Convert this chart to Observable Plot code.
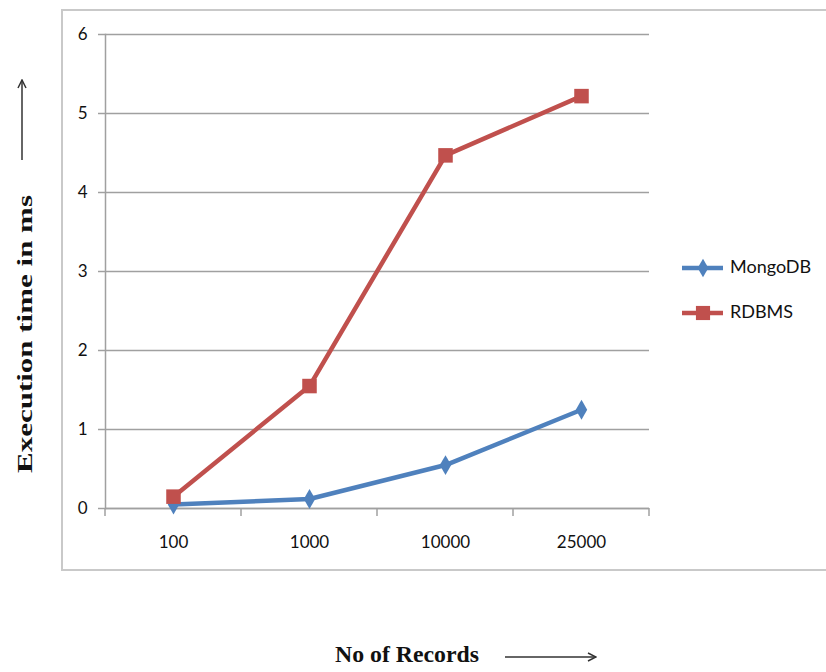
<!DOCTYPE html>
<html>
<head>
<meta charset="utf-8">
<script src="https://cdn.jsdelivr.net/npm/d3@7"></script>
<script src="https://cdn.jsdelivr.net/npm/@observablehq/plot@0.6"></script>
<style>
  html, body { margin: 0; padding: 0; background: #fff; }
  #wrap { position: relative; width: 826px; height: 672px; overflow: hidden; }
  #box { position: absolute; left: 61px; top: 9px; width: 800px; height: 562px; border: 2px solid #c9c9c9; box-sizing: border-box; }
  #chart { position: absolute; left: 0; top: 0; }
</style>
</head>
<body>
<div id="wrap">
  <div id="box"></div>
  <div id="chart"></div>
</div>
<script>
const categories = ["100", "1000", "10000", "25000"];
const mongoValues = [0.05, 0.12, 0.55, 1.25];
const rdbmsValues = [0.15, 1.55, 4.47, 5.22];
const yTicks = [0, 1, 2, 3, 4, 5, 6];
const seriesNames = ["MongoDB", "RDBMS"];
const seriesColors = ["#4F81BD", "#C0504D"];
const seriesSymbols = ["diamond", "square"];

const mongo = categories.map((c, i) => ({records: c, value: mongoValues[i], series: "MongoDB"}));
const rdbms = categories.map((c, i) => ({records: c, value: rdbmsValues[i], series: "RDBMS"}));

const axisColor = "#a0a0a0";

const chart = Plot.plot({
  width: 826,
  height: 672,
  marginLeft: 105,
  marginRight: 177,
  marginTop: 34,
  marginBottom: 164,
  style: {fontFamily: "Lato, 'Open Sans', sans-serif", fontSize: "17px", color: "#111", background: "transparent"},
  x: {type: "band", domain: categories, padding: 0, label: null},
  y: {domain: [0, 6], label: null},
  marks: [
    Plot.gridY(yTicks, {stroke: axisColor, strokeOpacity: 1, strokeWidth: 1.5}),
    Plot.axisY(yTicks, {tickSize: 7, tickPadding: 11, stroke: axisColor, strokeWidth: 1.5, tickFormat: d3.format("d"), label: null}),
    Plot.axisX({tickSize: 0, tickPadding: 27, label: null}),
    Plot.frame({anchor: "left", stroke: axisColor, strokeWidth: 1.5}),
    Plot.ruleY([0], {stroke: axisColor, strokeWidth: 1.5}),
    Plot.line(mongo, {x: "records", y: "value", stroke: seriesColors[0], strokeWidth: 4.5}),
    Plot.dot(mongo, {x: "records", y: "value", fill: seriesColors[0], symbol: seriesSymbols[0], r: 6, stroke: null}),
    Plot.line(rdbms, {x: "records", y: "value", stroke: seriesColors[1], strokeWidth: 4.5}),
    Plot.dot(rdbms, {x: "records", y: "value", fill: seriesColors[1], symbol: seriesSymbols[1], r: 8.2, stroke: null})
  ]
});
document.getElementById("chart").appendChild(chart);

// band boundary ticks under the x axis, placed with Plot's x scale
const xs = chart.scale("x");
const ys = chart.scale("y");
const bw = xs.bandwidth;
const svg = d3.select(chart);
const y0 = ys.apply(0);
const bounds = categories.map(c => xs.apply(c)).concat([xs.apply(categories[categories.length - 1]) + bw]);
svg.append("g").selectAll("line").data(bounds).join("line")
  .attr("x1", d => d).attr("x2", d => d)
  .attr("y1", y0).attr("y2", y0 + 8)
  .attr("stroke", axisColor).attr("stroke-width", 1.5);

// arrows
const defs = svg.append("defs");
defs.append("marker").attr("id", "ah").attr("viewBox", "0 0 10 10").attr("refX", 9).attr("refY", 5)
  .attr("markerWidth", 10).attr("markerHeight", 10).attr("orient", "auto").attr("markerUnits", "userSpaceOnUse")
  .append("path").attr("d", "M1,1 L9,5 L1,9").attr("fill", "none").attr("stroke", "#333").attr("stroke-width", 1.5);
svg.append("line").attr("x1", 22).attr("x2", 22).attr("y1", 160).attr("y2", 80)
  .attr("stroke", "#333").attr("stroke-width", 1.5).attr("marker-end", "url(#ah)");
svg.append("line").attr("x1", 505).attr("x2", 596).attr("y1", 657).attr("y2", 657)
  .attr("stroke", "#333").attr("stroke-width", 1.5).attr("marker-end", "url(#ah)");

// axis titles
svg.append("text").text("Execution time in ms")
  .attr("transform", "translate(27,334) rotate(-90)")
  .attr("text-anchor", "middle").attr("dominant-baseline", "middle")
  .attr("textLength", 278).attr("lengthAdjust", "spacingAndGlyphs")
  .attr("font-family", "'Liberation Serif', serif").attr("font-weight", "bold").attr("font-size", 22).attr("fill", "#111");
svg.append("text").text("No of Records")
  .attr("x", 407).attr("y", 656)
  .attr("text-anchor", "middle").attr("dominant-baseline", "middle")
  .attr("textLength", 144).attr("lengthAdjust", "spacingAndGlyphs")
  .attr("font-family", "'Liberation Serif', serif").attr("font-weight", "bold").attr("font-size", 24).attr("fill", "#111");

// legend
const leg = svg.append("g");
seriesNames.forEach((name, i) => {
  const yy = 268 + i * 45;
  leg.append("line").attr("x1", 682).attr("x2", 723).attr("y1", yy).attr("y2", yy)
    .attr("stroke", seriesColors[i]).attr("stroke-width", 4.5);
  const sym = i === 0 ? d3.symbolDiamond : d3.symbolSquare;
  leg.append("path").attr("d", d3.symbol(sym, i === 0 ? 100 : 200)()).attr("transform", `translate(703,${yy})`)
    .attr("fill", seriesColors[i]);
  leg.append("text").text(name).attr("x", 730).attr("y", yy).attr("dominant-baseline", "middle")
    .attr("text-anchor", "start")
    .attr("font-family", "Lato, 'Open Sans', sans-serif").attr("font-size", 18).attr("fill", "#111");
});
</script>
</body>
</html>
